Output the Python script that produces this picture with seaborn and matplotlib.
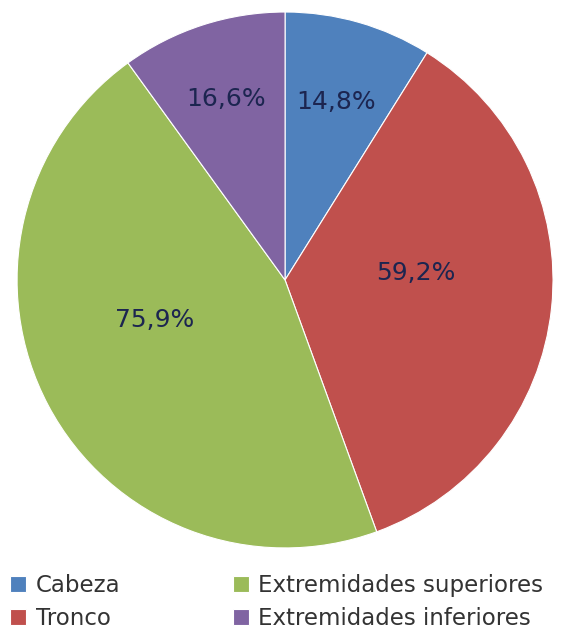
import numpy as np
import matplotlib
matplotlib.use("Agg")
import matplotlib.pyplot as plt
import seaborn as sns

# data
categories = ["Cabeza", "Tronco", "Extremidades superiores", "Extremidades inferiores"]
values = [14.8, 59.2, 75.9, 16.6]
labels = ["14,8%", "59,2%", "75,9%", "16,6%"]
colors = ["#4F81BD", "#C0504D", "#9BBB59", "#8064A2"]

# where each label sits: distance from centre, fraction along the wedge
label_dist = [0.69, 0.49, 0.51, 0.71]
label_frac = [0.5, 0.43, 0.567, 0.5]

sns.set_theme(style="white")
plt.rcParams["font.family"] = ["DejaVu Sans"]

fig = plt.figure(figsize=(5.65, 6.32), dpi=100)
ax = fig.add_axes([0.030, 0.133, 0.949, 0.848])

wedges, _ = ax.pie(
    values,
    colors=colors,
    startangle=90,
    counterclock=False,
    radius=1,
    wedgeprops={"edgecolor": "white", "linewidth": 0.8},
)
ax.set_xlim(-1, 1)
ax.set_ylim(-1, 1)
ax.set_aspect("equal")
ax.axis("off")

# wedges go clockwise, so theta2 is the start and theta1 the end
for w, lab, d, f in zip(wedges, labels, label_dist, label_frac):
    ang = np.deg2rad(w.theta2 + f * (w.theta1 - w.theta2))
    ax.text(d * np.cos(ang), d * np.sin(ang), lab, ha="center", va="center",
            fontsize=18, color="#1C2550")

fig.legend(
    wedges,
    categories,
    loc="lower left",
    bbox_to_anchor=(-0.018, -0.03),
    ncol=2,
    frameon=False,
    fontsize=16.5,
    handlelength=0.7,
    handleheight=0.7,
    handletextpad=0.4,
    columnspacing=4.9,
    labelspacing=0.45,
    labelcolor="#333333",
)

plt.savefig("out.png", dpi=100)
